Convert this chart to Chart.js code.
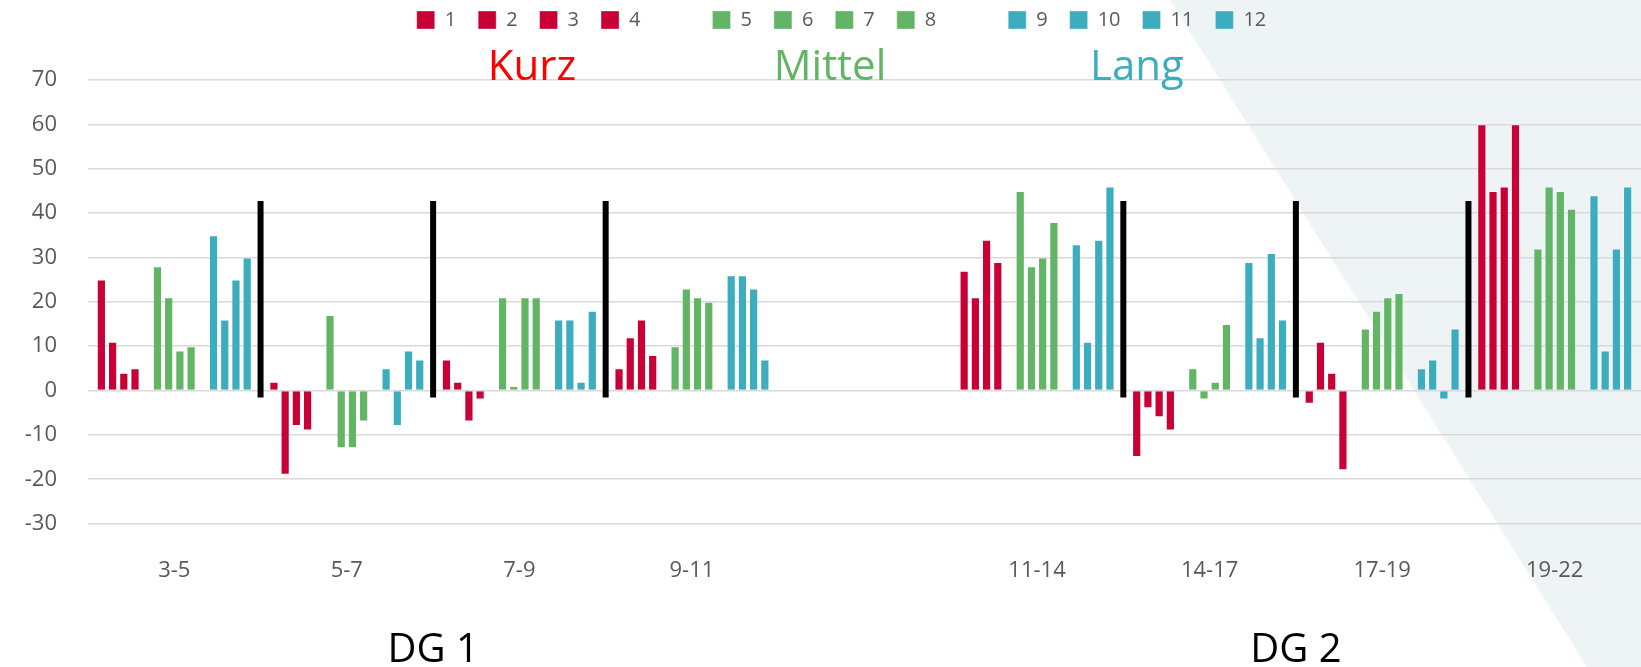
<!DOCTYPE html>
<html>
<head>
<meta charset="utf-8">
<script src="https://cdn.jsdelivr.net/npm/chart.js@4.4.1/dist/chart.umd.min.js"></script>
<style>
  html, body { margin: 0; padding: 0; background: #fff; }
</style>
</head>
<body>
<canvas id="myChart" width="1641" height="667"></canvas>
<script>
// categories (empty slot between the two groups)
const labels = ['3-5', '5-7', '7-9', '9-11', '', '11-14', '14-17', '17-19', '19-22'];

// Kurz
const s1 = [25, 2, 7, 5, null, 27, -15, -3, 60];
const s2 = [11, -19, 2, 12, null, 21, -4, 11, 45];
const s3 = [4, -8, -7, 16, null, 34, -6, 4, 46];
const s4 = [5, -9, -2, 8, null, 29, -9, -18, 60];
// Mittel
const s5 = [28, 17, 21, 10, null, 45, 5, 14, 32];
const s6 = [21, -13, 1, 23, null, 28, -2, 18, 46];
const s7 = [9, -13, 21, 21, null, 30, 2, 21, 45];
const s8 = [10, -7, 21, 20, null, 38, 15, 22, 41];
// Lang
const s9 = [35, 5, 16, 26, null, 33, 29, 5, 44];
const s10 = [16, -8, 16, 26, null, 11, 12, 7, 9];
const s11 = [25, 9, 2, 23, null, 34, 31, -2, 32];
const s12 = [30, 7, 18, 7, null, 46, 16, 14, 46];

const yTicks = [-30, -20, -10, 0, 10, 20, 30, 40, 50, 60, 70];

// black separators: after these category indexes, from/to value
const dividerAfter = [0, 1, 2, 5, 6, 7];
const dividerRange = [-1.6, 42.7];

// group titles under the axis, centred between these categories
const groupNames = ['DG 1', 'DG 2'];
const groupAt = [1.5, 6.5];

const RED = '#C80036';
const GREEN = '#62B565';
const BLUE = '#3CACBF';

const spacer = { label: '', data: [], backgroundColor: 'rgba(0,0,0,0)', borderWidth: 0 };

function bar(label, data, color) {
    return {
        label: label,
        data: data,
        backgroundColor: color,
        borderColor: 'rgba(255,255,255,0.35)',
        borderWidth: 1
    };
}

const datasets = [
    bar('1', s1, RED), bar('2', s2, RED), bar('3', s3, RED), bar('4', s4, RED),
    Object.assign({}, spacer),
    bar('5', s5, GREEN), bar('6', s6, GREEN), bar('7', s7, GREEN), bar('8', s8, GREEN),
    Object.assign({}, spacer),
    bar('9', s9, BLUE), bar('10', s10, BLUE), bar('11', s11, BLUE), bar('12', s12, BLUE)
];

Chart.defaults.font.family = "'Open Sans', sans-serif";
Chart.defaults.color = '#595959';

const backdrop = {
    id: 'backdrop',
    beforeDraw(chart) {
        const c = chart.ctx;
        c.save();
        c.fillStyle = '#fff';
        c.fillRect(0, 0, chart.width, chart.height);
        c.fillStyle = '#EEF3F6';
        c.beginPath();
        c.moveTo(1170, 0);
        c.lineTo(chart.width, 0);
        c.lineTo(chart.width, chart.height);
        c.lineTo(1587, chart.height);
        c.closePath();
        c.fill();
        c.restore();
    }
};

// extra room under the legend, and nudge the legend row a bit to the right
const legendMargin = {
    id: 'legendMargin',
    beforeInit(chart) {
        const fit = chart.legend.fit;
        chart.legend.fit = function () {
            fit.bind(chart.legend)();
            this.height += 40;
        };
    },
    afterUpdate(chart) {
        chart.legend.left += 20;
    }
};

const dividers = {
    id: 'dividers',
    afterDatasetsDraw(chart) {
        const c = chart.ctx;
        const x = chart.scales.x, y = chart.scales.y;
        c.save();
        c.strokeStyle = '#000';
        c.lineWidth = 6;
        dividerAfter.forEach(i => {
            const px = (x.getPixelForValue(i) + x.getPixelForValue(i + 1)) / 2;
            c.beginPath();
            c.moveTo(px, y.getPixelForValue(dividerRange[0]));
            c.lineTo(px, y.getPixelForValue(dividerRange[1]));
            c.stroke();
        });
        c.restore();
    }
};

const notes = {
    id: 'notes',
    afterDraw(chart) {
        const c = chart.ctx;
        const x = chart.scales.x;
        c.save();
        c.textAlign = 'center';
        c.textBaseline = 'alphabetic';
        c.font = "42px 'Open Sans'";
        c.fillStyle = '#FF0000';
        c.fillText('Kurz', 532, 80);
        c.fillStyle = GREEN;
        c.fillText('Mittel', 830, 80);
        c.fillStyle = BLUE;
        c.fillText('Lang', 1137, 80);
        c.font = "40px 'Open Sans'";
        c.fillStyle = '#000';
        groupNames.forEach((t, k) => {
            const v = groupAt[k];
            const px = (x.getPixelForValue(Math.floor(v)) + x.getPixelForValue(Math.ceil(v))) / 2;
            c.fillText(t, px, 662);
        });
        c.restore();
    }
};

new Chart(document.getElementById('myChart').getContext('2d'), {
    type: 'bar',
    data: { labels: labels, datasets: datasets },
    options: {
        responsive: false,
        animation: false,
        categoryPercentage: 0.91,
        barPercentage: 0.82,
        layout: { padding: { top: -12, left: 22, right: 0, bottom: 57 } },
        plugins: {
            legend: {
                display: true,
                position: 'top',
                labels: {
                    boxWidth: 18,
                    boxHeight: 18,
                    padding: 22,
                    color: '#595959',
                    font: { size: 20 }
                }
            },
            tooltip: { enabled: false }
        },
        scales: {
            x: {
                grid: { display: false },
                border: { display: false },
                ticks: { font: { size: 22 }, padding: 26, color: '#595959' }
            },
            y: {
                min: -30,
                max: 70,
                afterFit(scale) { scale.width = 66; },
                afterBuildTicks(scale) { scale.ticks = yTicks.map(v => ({ value: v })); },
                grid: { color: '#D9D9D9', lineWidth: 1.5, drawTicks: false },
                border: { display: false },
                ticks: { font: { size: 22 }, padding: 31, color: '#595959' }
            }
        }
    },
    plugins: [backdrop, legendMargin, dividers, notes]
});
</script>
</body>
</html>
